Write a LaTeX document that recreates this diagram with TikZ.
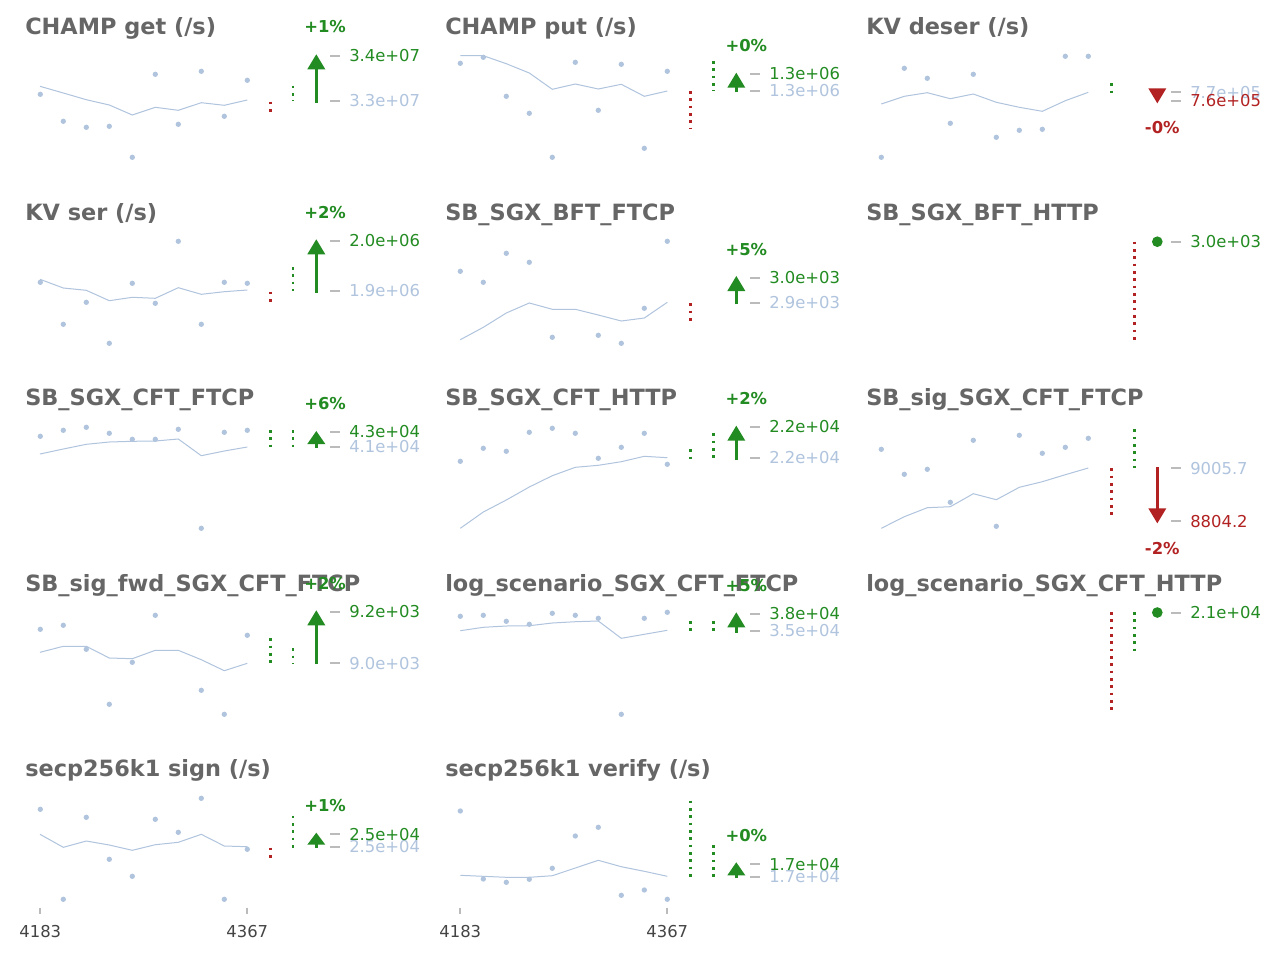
\documentclass[tikz,border=0pt]{standalone}
\usepackage{fontspec}
\setmainfont{DejaVu Sans}
\definecolor{tgray}{HTML}{666666}
\definecolor{grn}{HTML}{228B22}
\definecolor{dred}{HTML}{B22222}
\definecolor{lsb}{HTML}{B0C4DE}
\definecolor{tkgray}{HTML}{BBBBBB}
\definecolor{axgray}{HTML}{444444}
\newcommand\pts[1]{\foreach \px/\py in {#1} {\fill[lsb] (\px,\py) circle[radius=2pt];}}
\newcommand\uarr[5]{% x, ybase, ytip, color, headlen
  \draw[#4, shaft] (#1,#2) -- (#1,#3+#5-1);
  \fill[#4] (#1-9,#3+#5) -- (#1,#3) -- (#1+9,#3+#5) -- cycle;}
\newcommand\darr[4]{% x, ytop, ytip, color
  \draw[#4, shaft] (#1,#2) -- (#1,#3-14);
  \fill[#4] (#1-9,#3-15) -- (#1,#3) -- (#1+9,#3-15) -- cycle;}
\newcommand\tkl[5]{% tick x, y, color, text, name
  \draw[tk] (#1,#2) -- (#1+10,#2);
  \node[val, text=#3] (#5) at (#1+19,#2) {#4};}
\begin{document}
\begin{tikzpicture}[x=0.75pt,y=-0.75pt,
  title/.style={anchor=base west, text=tgray, font=\fontsize{16.8}{18}\selectfont\bfseries, inner sep=0},
  val/.style={anchor=west, font=\fontsize{12.3}{14}\selectfont, inner sep=0},
  pct/.style={anchor=west, font=\fontsize{12.3}{14}\selectfont\bfseries, inner sep=0},
  axl/.style={anchor=center, text=axgray, font=\fontsize{12.3}{14}\selectfont, inner sep=0},
  trend/.style={draw=lsb, line width=0.75pt},
  dotv/.style={line width=2.1pt, dash pattern=on 1.9pt off 3.6pt},
  tk/.style={draw=tkgray, line width=1.5pt},
  shaft/.style={line width=2pt},
  axtk/.style={draw=tkgray, line width=1.5pt}]
\useasboundingbox[fill=white] (0,0) rectangle (1280,960);

% ---------- titles ----------
\node[title] (T1) at (25,34.3) {CHAMP get (/s)};
\node[title] (T2) at (445,34.3) {CHAMP put (/s)};
\node[title] (T3) at (866,34.3) {KV deser (/s)};
\node[title] (T4) at (25,220) {KV ser (/s)};
\node[title] (T5) at (445,220) {SB\_SGX\_BFT\_FTCP};
\node[title] (T6) at (866,220) {SB\_SGX\_BFT\_HTTP};
\node[title] (T7) at (25,405.5) {SB\_SGX\_CFT\_FTCP};
\node[title] (T8) at (445,405.5) {SB\_SGX\_CFT\_HTTP};
\node[title] (T9) at (866,405.5) {SB\_sig\_SGX\_CFT\_FTCP};
\node[title] (T10) at (25,591.2) {SB\_sig\_fwd\_SGX\_CFT\_FTCP};
\node[title] (T11) at (445,591.2) {log\_scenario\_SGX\_CFT\_FTCP};
\node[title] (T12) at (866,591.2) {log\_scenario\_SGX\_CFT\_HTTP};
\node[title] (T13) at (25,776.7) {secp256k1 sign (/s)};
\node[title] (T14) at (445,776.7) {secp256k1 verify (/s)};

% ---------- panel 1 ----------
\pts{40.3/94.3, 63.3/121.3, 86.3/127.3, 109.3/126.3, 132.3/157.3, 155.3/74.3, 178.3/124.3, 201.3/71.3, 224.3/116.3, 247.3/80.3}
\draw[trend] (40,86.3) -- (63.3,93) -- (86.3,99.7) -- (109.3,105) -- (132.3,115) -- (155.3,107.3) -- (178.3,110.3) -- (201.3,102.7) -- (224.3,105.3) -- (247.3,100);
\draw[dred,dotv] (270.3,101.7) -- (270.3,112);
\draw[grn,dotv] (293,85.7) -- (293,101);
\uarr{316.3}{102.7}{54.3}{grn}{15}
\tkl{330}{100.7}{lsb}{3.3e+07}{V1b}
\tkl{330}{56}{grn}{3.4e+07}{V1a}
\node[pct, text=grn] (P1) at (304,27) {+1\%};

% ---------- panel 2 ----------
\pts{460.3/63.3, 483.3/57.3, 506.3/96.3, 529.3/113.3, 552.3/157.3, 575.3/62.3, 598.3/110.3, 621.3/64.3, 644.3/148.3, 667.3/71.3}
\draw[trend] (460.3,55.7) -- (483.3,55.7) -- (506.3,63.7) -- (529.3,73) -- (552.3,89.3) -- (575.3,84) -- (598.3,89) -- (621.3,84.3) -- (644.3,96.3) -- (667.3,91);
\draw[dred,dotv] (690.3,91) -- (690.3,129.3);
\draw[grn,dotv] (713.3,61) -- (713.3,90.7);
\uarr{736.3}{92.3}{72.7}{grn}{15}
\tkl{750}{90.7}{lsb}{1.3e+06}{V2b}
\tkl{750}{74}{grn}{1.3e+06}{V2a}
\node[pct, text=grn] (P2) at (725.3,45.7) {+0\%};

% ---------- panel 3 ----------
\pts{881.3/157.3, 904.3/68.3, 927.3/78.3, 950.3/123.3, 973.3/74.3, 996.3/137.3, 1019.3/130.3, 1042.3/129.3, 1065.3/56.3, 1088.3/56.3}
\draw[trend] (881.3,104) -- (904.3,96.3) -- (927.3,92.7) -- (950.3,98.7) -- (973.3,94) -- (996.3,102.3) -- (1019.3,107.3) -- (1042.3,111.3) -- (1065.3,100.7) -- (1088.3,92.3);
\draw[grn,dotv] (1111.3,83.3) -- (1111.3,93);
\darr{1157.3}{89.3}{103.3}{dred}
\tkl{1171}{92.3}{lsb}{7.7e+05}{V3a}
\tkl{1171}{100.5}{dred}{7.6e+05}{V3b}
\node[pct, text=dred] (P3) at (1144.7,127.7) {-0\%};

% ---------- panel 4 ----------
\pts{40.3/282.3, 63.3/324.3, 86.3/302.3, 109.3/343.3, 132.3/283.3, 155.3/303.3, 178.3/241.3, 201.3/324.3, 224.3/282.3, 247.3/283.3}
\draw[trend] (40,279.3) -- (63.3,288) -- (86.3,290.3) -- (109.3,300.7) -- (132.3,297.3) -- (155.3,298.3) -- (178.3,287.7) -- (201.3,294.3) -- (224.3,291.7) -- (247.3,290);
\draw[dred,dotv] (270.3,291.7) -- (270.3,302);
\draw[grn,dotv] (293,267) -- (293,290.7);
\uarr{316.3}{292.7}{239.3}{grn}{15}
\tkl{330}{290.7}{lsb}{1.9e+06}{V4b}
\tkl{330}{241}{grn}{2.0e+06}{V4a}
\node[pct, text=grn] (P4) at (304,212.7) {+2\%};

% ---------- panel 5 ----------
\pts{460.3/271.3, 483.3/282.3, 506.3/253.3, 529.3/262.3, 552.3/337.3, 598.3/335.3, 621.3/343.3, 644.3/308.3, 667.3/241.3}
\draw[trend] (460.3,339.7) -- (483.3,327.3) -- (506.3,313) -- (529.3,303) -- (552.3,309.3) -- (575.3,309.3) -- (598.3,315) -- (621.3,321) -- (644.3,318) -- (667.3,302.3);
\draw[dred,dotv] (690.3,303.3) -- (690.3,320.5);
\uarr{736.3}{304.3}{276}{grn}{15}
\tkl{750}{302.7}{lsb}{2.9e+03}{V5b}
\tkl{750}{277.7}{grn}{3.0e+03}{V5a}
\node[pct, text=grn] (P5) at (725.3,250) {+5\%};

% ---------- panel 6 ----------
\draw[dred,dotv] (1134.3,241.7) -- (1134.3,339.5);
\fill[grn] (1157.3,241.7) circle[radius=4pt];
\tkl{1171}{241.7}{grn}{3.0e+03}{V6a}

% ---------- panel 7 ----------
\pts{40.3/436.3, 63.3/430.3, 86.3/427.3, 109.3/433.3, 132.3/439.3, 155.3/439.3, 178.3/429.3, 201.3/528.3, 224.3/432.3, 247.3/430.3}
\draw[trend] (40,454) -- (63.3,449) -- (86.3,444.3) -- (109.3,442) -- (132.3,441.3) -- (155.3,441) -- (178.3,439) -- (201.3,455.7) -- (224.3,451) -- (247.3,447);
\draw[grn,dotv] (270.3,430) -- (270.3,447.5);
\draw[grn,dotv] (293,430) -- (293,447.5);
\uarr{316.3}{448}{431}{grn}{13}
\tkl{330}{447}{lsb}{4.1e+04}{V7b}
\tkl{330}{431.7}{grn}{4.3e+04}{V7a}
\node[pct, text=grn] (P7) at (304,404) {+6\%};

% ---------- panel 8 ----------
\pts{460.3/461.3, 483.3/448.3, 506.3/451.3, 529.3/432.3, 552.3/428.3, 575.3/433.3, 598.3/458.3, 621.3/447.3, 644.3/433.3, 667.3/464.3}
\draw[trend] (460.3,528.3) -- (483.3,512) -- (506.3,500) -- (529.3,487) -- (552.3,475.7) -- (575.3,467.3) -- (598.3,465.3) -- (621.3,461.7) -- (644.3,456.3) -- (667.3,457.7);
\draw[grn,dotv] (690.3,449.3) -- (690.3,458.5);
\draw[grn,dotv] (713.3,433.3) -- (713.3,458.5);
\uarr{736.3}{460}{425.7}{grn}{15}
\tkl{750}{457.7}{lsb}{2.2e+04}{V8b}
\tkl{750}{426.7}{grn}{2.2e+04}{V8a}
\node[pct, text=grn] (P8) at (725.3,398.3) {+2\%};

% ---------- panel 9 ----------
\pts{881.3/449.3, 904.3/474.3, 927.3/469.3, 950.3/502.3, 973.3/440.3, 996.3/526.3, 1019.3/435.3, 1042.3/453.3, 1065.3/447.3, 1088.3/438.3}
\draw[trend] (881.3,528.3) -- (904.3,516.7) -- (927.3,507.7) -- (950.3,506.7) -- (973.3,493.7) -- (996.3,499.7) -- (1019.3,487.3) -- (1042.3,481.7) -- (1065.3,474.7) -- (1088.3,468);
\draw[dred,dotv] (1111.3,468.3) -- (1111.3,514.5);
\draw[grn,dotv] (1134.3,429.3) -- (1134.3,468.3);
\darr{1157.3}{467.3}{523.3}{dred}
\tkl{1171}{468.3}{lsb}{9005.7}{V9a}
\tkl{1171}{521.3}{dred}{8804.2}{V9b}
\node[pct, text=dred] (P9) at (1144.7,548.7) {-2\%};

% ---------- panel 10 ----------
\pts{40.3/629.3, 63.3/625.3, 86.3/649.3, 109.3/704.3, 132.3/662.3, 155.3/615.3, 201.3/690.3, 224.3/714.3, 247.3/635.3}
\draw[trend] (40,652.3) -- (63.3,646.3) -- (86.3,646.3) -- (109.3,658) -- (132.3,658.7) -- (155.3,650.3) -- (178.3,650.3) -- (201.3,659.7) -- (224.3,670.7) -- (247.3,663.3);
\draw[grn,dotv] (270.3,638.3) -- (270.3,663.5);
\draw[grn,dotv] (293,648.3) -- (293,663.5);
\uarr{316.3}{664.3}{610.3}{grn}{15}
\tkl{330}{663.3}{lsb}{9.0e+03}{V10b}
\tkl{330}{611.7}{grn}{9.2e+03}{V10a}
\node[pct, text=grn] (P10) at (304,583.3) {+2\%};

% ---------- panel 11 ----------
\pts{460.3/616.3, 483.3/615.3, 506.3/621.3, 529.3/624.3, 552.3/613.3, 575.3/615.3, 598.3/618.3, 621.3/714.3, 644.3/618.3, 667.3/612.3}
\draw[trend] (460.3,630.7) -- (483.3,627.3) -- (506.3,626) -- (529.3,625.7) -- (552.3,623) -- (575.3,621.7) -- (598.3,621) -- (621.3,638.3) -- (644.3,634.3) -- (667.3,630.3);
\draw[grn,dotv] (690.3,621) -- (690.3,632);
\draw[grn,dotv] (713.3,621) -- (713.3,632);
\uarr{736.3}{632.7}{612.3}{grn}{15}
\tkl{750}{630.7}{lsb}{3.5e+04}{V11b}
\tkl{750}{614}{grn}{3.8e+04}{V11a}
\node[pct, text=grn] (P11) at (725.3,585.7) {+5\%};

% ---------- panel 12 ----------
\draw[dred,dotv] (1111.3,612) -- (1111.3,711.5);
\draw[grn,dotv] (1134.3,612) -- (1134.3,652.5);
\fill[grn] (1157.3,612.5) circle[radius=4pt];
\tkl{1171}{612.5}{grn}{2.1e+04}{V12a}

% ---------- panel 13 ----------
\pts{40.3/809.3, 63.3/899.3, 86.3/817.3, 109.3/859.3, 132.3/876.3, 155.3/819.3, 178.3/832.3, 201.3/798.3, 224.3/899.3, 247.3/849.3}
\draw[trend] (40,834.3) -- (63.3,847.3) -- (86.3,841) -- (109.3,845) -- (132.3,850.3) -- (155.3,844.7) -- (178.3,842.3) -- (201.3,834.3) -- (224.3,846) -- (247.3,846.7);
\draw[dred,dotv] (270.3,847.7) -- (270.3,857.5);
\draw[grn,dotv] (293,815.7) -- (293,847.5);
\uarr{316.3}{847.7}{832.7}{grn}{12}
\tkl{330}{846.7}{lsb}{2.5e+04}{V13b}
\tkl{330}{834.3}{grn}{2.5e+04}{V13a}
\node[pct, text=grn] (P13) at (304,805.7) {+1\%};
\draw[axtk] (40.3,907.7) -- (40.3,914.3);
\draw[axtk] (247.3,907.7) -- (247.3,914.3);
\node[axl] (A1) at (40.3,932) {4183};
\node[axl] (A2) at (247.3,932) {4367};

% ---------- panel 14 ----------
\pts{460.3/811, 483.3/879, 506.3/882.3, 529.3/879.3, 552.3/868.3, 575.3/836, 598.3/827.3, 621.3/895.3, 644.3/890, 667.3/899.3}
\draw[trend] (460.3,875.3) -- (483.3,876.3) -- (506.3,877.3) -- (529.3,877.3) -- (552.3,875.7) -- (575.3,868) -- (598.3,860.3) -- (621.3,866.7) -- (644.3,871.3) -- (667.3,876.3);
\draw[grn,dotv] (690.3,800.7) -- (690.3,878);
\draw[grn,dotv] (713.3,845) -- (713.3,878);
\uarr{736.3}{877.7}{862.3}{grn}{13}
\tkl{750}{876.7}{lsb}{1.7e+04}{V14b}
\tkl{750}{864.3}{grn}{1.7e+04}{V14a}
\node[pct, text=grn] (P14) at (725.3,835.7) {+0\%};
\draw[axtk] (460.3,907.7) -- (460.3,914.3);
\draw[axtk] (667.3,907.7) -- (667.3,914.3);
\node[axl] (A3) at (460.3,932) {4183};
\node[axl] (A4) at (667.3,932) {4367};
\end{tikzpicture}
\end{document}
